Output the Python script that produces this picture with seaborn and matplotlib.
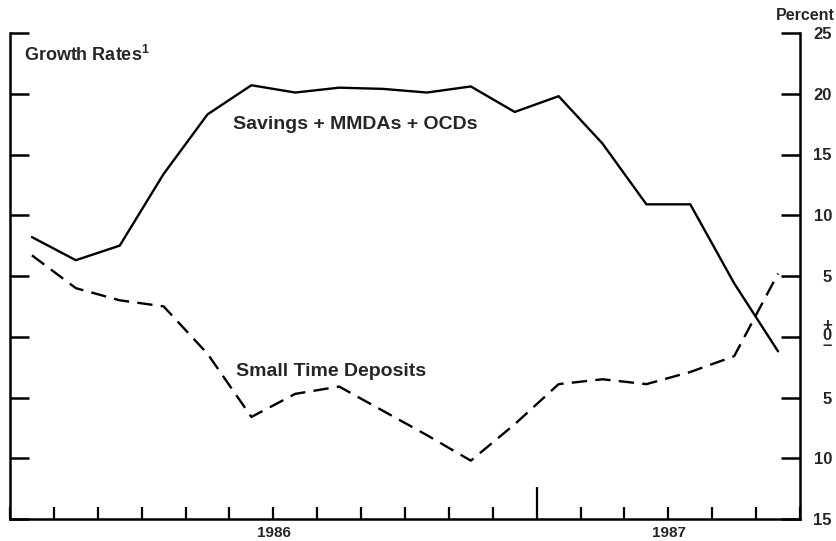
import matplotlib
matplotlib.use('Agg')
import matplotlib.pyplot as plt
import seaborn as sns
import pandas as pd

# Monthly growth rates, Jan 1986 - Jun 1987 (percent, annual rate)
months = list(range(18))
savings = [8.2, 6.3, 7.5, 13.4, 18.3, 20.7, 20.1, 20.5, 20.4, 20.1, 20.6, 18.5,
           19.8, 15.9, 10.9, 10.9, 4.4, -1.2]
small_time = [6.7, 4.0, 3.0, 2.5, -1.4, -6.6, -4.7, -4.1, -6.1, -8.1, -10.2, -7.2,
              -3.9, -3.5, -3.9, -2.9, -1.6, 5.2]
series_names = ["Savings + MMDAs + OCDs", "Small Time Deposits"]
y_ticks = [-15, -10, -5, 0, 5, 10, 15, 20, 25]
y_labels = ["15", "10", "5", "+\n0\n\u2013", "5", "10", "15", "20", "25"]
year_pos = [6.01, 15.01]
year_labels = ["1986", "1987"]

df = pd.DataFrame({
    "month": [m + 0.5 for m in months] * 2,
    "value": savings + small_time,
    "series": [series_names[0]] * len(months) + [series_names[1]] * len(months),
})

sns.set_theme(style="white")
plt.rcParams['font.family'] = ['Liberation Sans', 'DejaVu Sans']
plt.rcParams['font.weight'] = 'bold'
plt.rcParams['mathtext.fontset'] = 'custom'
plt.rcParams['mathtext.bf'] = 'Liberation Sans:bold'

fig = plt.figure(figsize=(8.37, 5.41), dpi=100)
ax = fig.add_axes([10 / 837, 22 / 541, 790 / 837, 486 / 541])

sns.lineplot(data=df, x="month", y="value", style="series", color="black",
             dashes={series_names[0]: "", series_names[1]: (6.5, 3.5)},
             linewidth=1.7, legend=False, ax=ax)

ax.set_xlim(0, 18)
ax.set_ylim(-15, 25)
ax.set_xlabel("")
ax.set_ylabel("")

for side in ["left", "right", "bottom"]:
    ax.spines[side].set_visible(True)
    ax.spines[side].set_color("black")
    ax.spines[side].set_linewidth(1.8)
ax.spines["top"].set_visible(False)

# y axis: ticks on both sides, labels on the right
ax.set_yticks(y_ticks)
ax.set_yticklabels(y_labels)
ax.tick_params(axis="y", which="major", direction="in", left=True, right=True,
               labelleft=False, labelright=True, length=14, width=1.8,
               color="black", pad=23, labelsize=12)
for lab in ax.get_yticklabels():
    lab.set_horizontalalignment("right")
    lab.set_fontweight("bold")
    if "\n" in lab.get_text():
        lab.set_linespacing(0.55)
        lab.set_fontsize(12)

# x axis: monthly ticks, year labels
ax.set_xticks(range(19))
ax.set_xticklabels([""] * 19)
ax.tick_params(axis="x", which="major", direction="in", bottom=True, length=9,
               width=1.6, color="black")
ax.set_xticks(year_pos, minor=True)
ax.set_xticklabels(year_labels, minor=True)
ax.tick_params(axis="x", which="minor", length=0, pad=5, labelsize=11)
for lab in ax.get_xticklabels(minor=True):
    lab.set_fontweight("bold")
ax.xaxis.get_major_ticks()[12].tick1line.set_markersize(23)

ax.text(0.32, 23.2, r"Growth Rates$^{\mathbf{1}}$", fontsize=13, fontweight="bold",
        ha="left", va="center")
ax.text(5.08, 17.5, series_names[0], fontsize=14, fontweight="bold",
        ha="left", va="center")
ax.text(5.15, -2.9, series_names[1], fontsize=14, fontweight="bold",
        ha="left", va="center")
fig.text(835 / 837, 1 - 16 / 541, "Percent", fontsize=11.5, fontweight="bold",
         ha="right", va="center")

fig.savefig("out.png", dpi=100)
plt.close(fig)
